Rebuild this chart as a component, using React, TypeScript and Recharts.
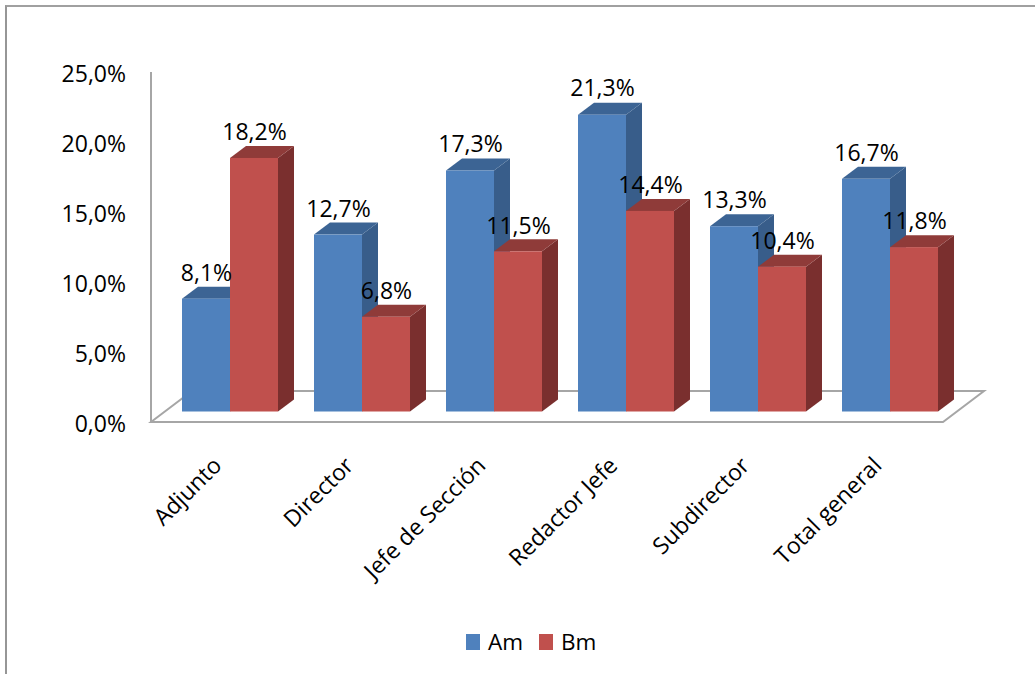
import { Bar, BarChart, LabelList, Legend, XAxis, YAxis, usePlotArea } from "recharts";

const categories = ["Adjunto", "Director", "Jefe de Sección", "Redactor Jefe", "Subdirector", "Total general"];
const amValues = [8.1, 12.7, 17.3, 21.3, 13.3, 16.7];
const bmValues = [18.2, 6.8, 11.5, 14.4, 10.4, 11.8];
const yTicks = [0, 5, 10, 15, 20, 25];

const data = categories.map((name, i) => ({ name, Am: amValues[i], Bm: bmValues[i] }));

const FONT = "'Open Sans', sans-serif";
const TEXT_SIZE = 23;
const GREY = "#A6A6A6";
// the bars stand inside the floor, so they sit off the axis position
const SHIFT_X = 13;
const SHIFT_Y = -10.5;
const DEPTH_X = 16;
const DEPTH_Y = 12;
const BAR_SCALE = 0.995;

const formatPct = (v: number) => v.toFixed(1).replace(".", ",") + "%";

function box3d(front: string, top: string, side: string) {
  return function Box(props: any) {
    const w = props.width;
    const h = props.height * BAR_SCALE;
    const x = props.x + SHIFT_X;
    const y = props.y + props.height - h + SHIFT_Y;
    return (
      <g>
        <polygon
          points={`${x + w},${y} ${x + w + DEPTH_X},${y - DEPTH_Y} ${x + w + DEPTH_X},${y + h - DEPTH_Y} ${x + w},${y + h}`}
          fill={side}
        />
        <polygon
          points={`${x},${y} ${x + DEPTH_X},${y - DEPTH_Y} ${x + w + DEPTH_X},${y - DEPTH_Y} ${x + w},${y}`}
          fill={top}
        />
        <rect x={x} y={y} width={w} height={h} fill={front} />
      </g>
    );
  };
}

function ValueLabel(props: any) {
  const { x, y, width, value } = props;
  return (
    <text
      x={x + width / 2 + SHIFT_X + 0.5}
      y={y + SHIFT_Y - 17}
      textAnchor="middle"
      fontFamily={FONT}
      fontSize={TEXT_SIZE}
      fill="#000"
    >
      {formatPct(value)}
    </text>
  );
}

function CategoryTick(props: any) {
  const { x, y, payload } = props;
  return (
    <text
      transform={`translate(${x + 6},${y + 37}) rotate(-45)`}
      textAnchor="end"
      fontFamily={FONT}
      fontSize={TEXT_SIZE}
      fill="#000"
    >
      {payload.value}
    </text>
  );
}

function ValueTick(props: any) {
  const { x, y, payload } = props;
  return (
    <text x={x} y={y + 10} textAnchor="end" fontFamily={FONT} fontSize={TEXT_SIZE} fill="#000">
      {formatPct(payload.value)}
    </text>
  );
}

function Floor() {
  const plot = usePlotArea();
  if (!plot) return null;
  const left = plot.x;
  const right = plot.x + plot.width;
  const bottom = plot.y + plot.height;
  return (
    <polygon
      points={`${left},${bottom} ${left + 41},${bottom - 31} ${right + 41},${bottom - 31} ${right},${bottom}`}
      fill="#fff"
      stroke={GREY}
      strokeWidth={2}
    />
  );
}

function LegendRow() {
  const items = [
    { label: "Am", color: "#4F81BD" },
    { label: "Bm", color: "#C0504D" },
  ];
  return (
    <div style={{ display: "flex", alignItems: "center", gap: 16, fontFamily: FONT, fontSize: 22.5, lineHeight: "24px" }}>
      {items.map((it) => (
        <div key={it.label} style={{ display: "flex", alignItems: "center", gap: 8 }}>
          <span style={{ width: 14, height: 16, background: it.color, display: "inline-block" }} />
          {it.label}
        </div>
      ))}
    </div>
  );
}

export default function App() {
  return (
    <div style={{ position: "absolute", left: 0, top: 0, width: 1035, height: 674, background: "#fff", overflow: "hidden" }}>
      <div
        style={{
          position: "absolute",
          left: 5,
          top: 5,
          width: 1035,
          height: 674,
          borderLeft: "2px solid #969696",
          borderTop: "2px solid #A0A0A0",
        }}
      />
      <BarChart
        width={1035}
        height={674}
        data={data}
        barSize={48}
        barGap={0}
        margin={{ top: 72, right: 92, left: 0, bottom: 20 }}
        style={{ position: "absolute", left: 0, top: 0 }}
      >
        <Floor />
        <XAxis dataKey="name" axisLine={false} tickLine={false} height={208} interval={0} tick={<CategoryTick />} />
        <YAxis
          width={151}
          domain={[0, 25]}
          ticks={yTicks}
          axisLine={{ stroke: GREY, strokeWidth: 2 }}
          tickLine={false}
          tickMargin={25}
          tickSize={0}
          tick={<ValueTick />}
        />
        <Legend
          verticalAlign="bottom"
          height={24}
          wrapperStyle={{ left: 466, width: 140 }}
          content={<LegendRow />}
        />
        <Bar dataKey="Am" isAnimationActive={false} shape={box3d("#4F81BD", "#3C6494", "#385D8A")}>
          <LabelList dataKey="Am" content={<ValueLabel />} />
        </Bar>
        <Bar dataKey="Bm" isAnimationActive={false} shape={box3d("#C0504D", "#8F3B39", "#7A2F2E")}>
          <LabelList dataKey="Bm" content={<ValueLabel />} />
        </Bar>
      </BarChart>
    </div>
  );
}
